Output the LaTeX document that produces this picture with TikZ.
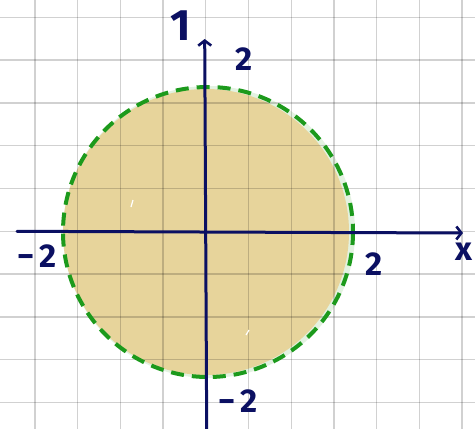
\documentclass[tikz,border=0pt]{standalone}
\usepackage{fontspec}
\setmainfont{Fira Sans}
\usetikzlibrary{arrows.meta}
\definecolor{navy}{HTML}{0B1062}
\definecolor{tanfill}{HTML}{E7D49B}
\definecolor{halo}{HTML}{E3F2E1}
\definecolor{dashgreen}{HTML}{1C9A1C}
\begin{document}
\begin{tikzpicture}[x=1pt,y=-1pt,
  gridline/.style={line width=1.3pt, black, opacity=0.18},
  axis/.style={navy, line width=3pt, line cap=round},
  tip/.style={-{Straight Barb[length=5pt,width=13pt,line width=2.6pt]}},
  lab/.style={navy, inner sep=0pt, font=\bfseries\fontsize{33}{35}\selectfont}]
\useasboundingbox (0,0) rectangle (475,429);
\fill[white] (0,0) rectangle (475,429);
% region
\fill[halo] (209,232) circle (146);
\fill[tanfill] (206,232) circle (143);
% grid
\foreach \i in {0,...,10} \draw[gridline] ({35+42.7*\i},0) -- ({35+42.7*\i},429);
\foreach \j in {0,...,9} \draw[gridline] (0,{17.3+42.8*\j}) -- (475,{17.3+42.8*\j});
% small white marks
\draw[white, line width=1.2pt] (131,207) -- (133,200);
\draw[white, line width=1.2pt] (246,335) -- (249,330);
% dashed circle
\draw[dashgreen, line width=4pt, dash pattern=on 13pt off 8pt] (208,232) circle (145);
% axes
\coordinate (xs) at (17,231.3);
\coordinate (xe) at (463,233);
\coordinate (ys) at (206.7,429);
\coordinate (ye) at (204.7,39);
\draw[axis, tip] (xs) -- (xe);
\draw[axis, tip] (ys) -- (ye);
% labels
\node[lab, font=\bfseries\fontsize{44}{46}\selectfont] (ylab) at (181,26) {1};
\node[lab] (ytop) at (244,59) {2};
\node[lab] (xleft) at (37,256) {−\,2};
\node[lab] (xright) at (374,264) {2};
\node[lab] (xlab) at (464,252) {x};
\node[lab] (ybot) at (238,401) {−\,2};
\end{tikzpicture}
\end{document}
